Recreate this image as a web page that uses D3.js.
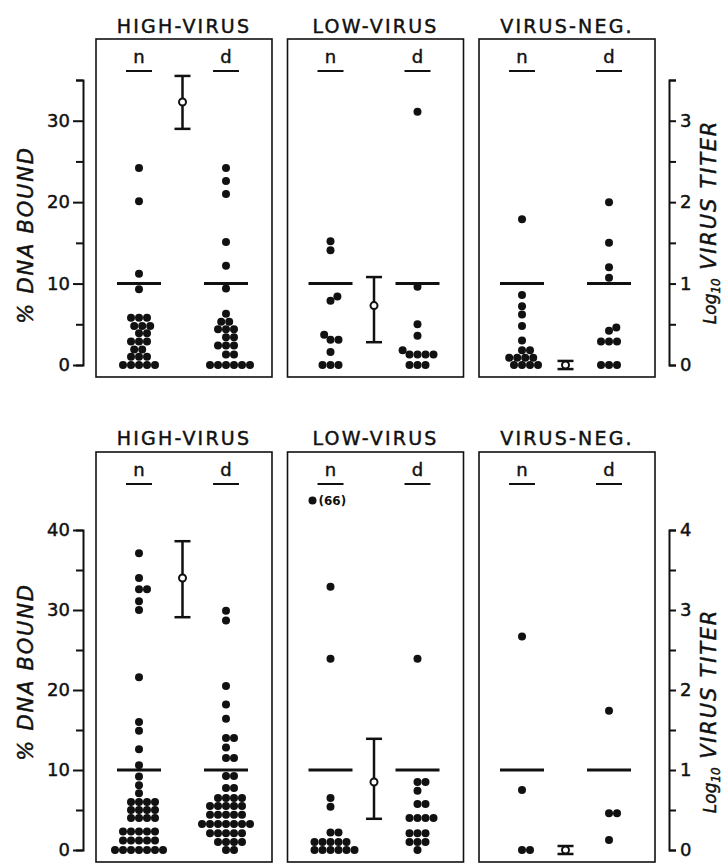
<!DOCTYPE html>
<html><head><meta charset="utf-8">
<script src="https://cdn.jsdelivr.net/npm/d3@7"></script>
<style>body{margin:0;background:#fff} svg{display:block}</style>
</head><body>
<svg id="chart" width="727" height="865"></svg>
<script>
// ---------- DATA ----------
const groups = ["HIGH-VIRUS", "LOW-VIRUS", "VIRUS-NEG."];
const columns = ["n", "err", "d"];
const medianValue = 10;

// Upper experiment: % DNA bound, per group, n and d columns
const topHighN = [24.2, 20.1, 11.2, 9.3, 5.8, 5.8, 5.8, 4.8, 4.8, 4.8, 3.9, 3.9, 2.9, 2.9, 2.9, 1.9, 1.9, 1.0, 1.0, 1.0, 0, 0, 0, 0, 0];
const topHighD = [24.2, 22.6, 21.0, 15.1, 12.2, 9.4, 6.3, 5.3, 5.3, 4.4, 4.4, 4.4, 3.4, 3.4, 2.4, 2.4, 2.4, 1.3, 1.3, 0, 0, 0, 0, 0, 0];
const topLowN = [15.2, 14.1, 8.4, 7.9, 3.7, 3.1, 3.1, 1.6, 0, 0, 0];
const topLowD = [31.1, 9.6, 5.0, 3.6, 1.8, 1.3, 1.3, 1.3, 1.3, 0, 0, 0];
const topNegN = [17.9, 8.6, 7.2, 6.2, 4.8, 3.0, 1.8, 1.8, 0.9, 0.9, 0.9, 0.9, 0, 0, 0, 0];
const topNegD = [20.0, 15.0, 12.0, 10.7, 4.6, 4.2, 2.9, 2.9, 2.9, 0, 0, 0];
// Upper experiment: log10 virus titer (mean, low, high) per group
const topTiterMean = [3.23, 0.73, 0.0];
const topTiterLow = [2.90, 0.28, -0.05];
const topTiterHigh = [3.55, 1.08, 0.05];

// Lower experiment
const bottomHighN = [37.1, 34.0, 32.6, 32.6, 31.1, 30.0, 21.6, 16.0, 14.9, 12.6, 10.6, 9.2, 8.1, 7.1,
  6, 6, 6, 6, 5, 5, 5, 5, 4, 4, 4, 4, 2.3, 2.3, 2.3, 2.3, 2.3, 1.2, 1.2, 1.2, 1.2, 1.2, 0, 0, 0, 0, 0, 0, 0];
const bottomHighD = [29.9, 28.7, 20.5, 18.2, 16.4, 14.0, 14.0, 12.8, 11.5, 11.5, 9.25, 9.25, 7.75, 7.75,
  6.5, 6.5, 6.5, 6.5, 5.5, 5.5, 5.5, 5.5, 5.5, 4.4, 4.4, 4.4, 4.4, 4.4,
  3.25, 3.25, 3.25, 3.25, 3.25, 3.25, 3.25, 2.1, 2.1, 2.1, 2.1, 2.1, 1.0, 1.0, 1.0, 1.0, 0, 0];
const bottomLowN = [32.9, 23.9, 6.5, 5.4, 2.2, 2.2, 1.0, 1.0, 1.0, 1.0, 1.0, 0, 0, 0, 0, 0, 0];
const bottomLowD = [23.9, 8.5, 8.5, 7.4, 5.75, 5.75, 4.0, 4.0, 4.0, 4.0, 2.1, 2.1, 2.1, 1.0, 1.0, 1.0, 0];
const bottomNegN = [26.7, 7.5, 0, 0];
const bottomNegD = [17.4, 4.6, 4.6, 1.25];
const bottomOutlierValue = [66];        // off-scale value, drawn at top of LOW-VIRUS n column
const bottomOutlierShownAt = 43.7;      // where on the % scale it is parked
const bottomTiterMean = [3.40, 0.85, 0.0];
const bottomTiterLow = [2.91, 0.39, -0.05];
const bottomTiterHigh = [3.86, 1.39, 0.05];

// Axis ticks
const topPctTicks = [0, 5, 10, 15, 20, 25, 30, 35];
const topTiterTicks = [0, 0.5, 1, 1.5, 2, 2.5, 3, 3.5];
const bottomPctTicks = [0, 5, 10, 15, 20, 25, 30, 35, 40];
const bottomTiterTicks = [0, 0.5, 1, 1.5, 2, 2.5, 3, 3.5, 4];

// ---------- DRAW ----------
const svg = d3.select("#chart");
const FONT = "'DejaVu Sans', sans-serif";
const INK = "#111";
const R = 4, D = 8;

const xPanel = d3.scaleBand().domain(groups).range([96, 655]).paddingInner(0.081);
const xCol = d3.scalePoint().domain(columns).range([43, 130]);

function lettering(sel, size) {
  return sel.attr("font-family", FONT).attr("font-size", size).attr("fill", INK)
    .attr("stroke", INK).attr("stroke-width", 0.45);
}

function swarm(values, y) {
  const pts = values.map(v => ({ v, y: y(v), x: 0 })).sort((a, b) => b.y - a.y);
  const placed = [];
  for (const p of pts) {
    const cands = [0];
    for (const q of placed) {
      const dy = Math.abs(q.y - p.y);
      if (dy < D) { const dx = Math.sqrt(D * D - dy * dy); cands.push(q.x + dx, q.x - dx); }
    }
    cands.sort((a, b) => (Math.abs(a) - Math.abs(b)) || (b - a));
    for (const c of cands) {
      if (placed.every(q => (q.x - c) ** 2 + (q.y - p.y) ** 2 >= D * D - 0.01)) { p.x = c; break; }
    }
    placed.push(p);
  }
  return placed;
}

function drawRow(cfg) {
  const g = svg.append("g");
  const y = d3.scaleLinear().domain([0, cfg.pctMax]).range(cfg.range);
  const yT = d3.scaleLinear().domain([0, cfg.titerMax]).range(cfg.range);

  groups.forEach((grp, i) => {
    const x0 = xPanel(grp);
    const pg = g.append("g").attr("transform", `translate(${x0},0)`);
    // box
    pg.append("rect").attr("x", 0).attr("y", cfg.boxTop)
      .attr("width", xPanel.bandwidth()).attr("height", cfg.boxBottom - cfg.boxTop)
      .attr("fill", "none").attr("stroke", INK).attr("stroke-width", 1.6);
    // title
    lettering(g.append("text"), 19).attr("x", x0 + xPanel.bandwidth() / 2).attr("y", cfg.titleY)
      .attr("text-anchor", "middle").attr("letter-spacing", 2.2).text(grp);
    // n / d labels with underline
    ["n", "d"].forEach(c => {
      lettering(pg.append("text"), 18).attr("x", xCol(c)).attr("y", cfg.labelY)
        .attr("text-anchor", "middle").text(c);
      pg.append("line").attr("x1", xCol(c) - 13).attr("x2", xCol(c) + 13)
        .attr("y1", cfg.labelY + 8).attr("y2", cfg.labelY + 8)
        .attr("stroke", INK).attr("stroke-width", 2);
      // median line
      pg.append("line").attr("x1", xCol(c) - 22).attr("x2", xCol(c) + 22)
        .attr("y1", y(medianValue)).attr("y2", y(medianValue))
        .attr("stroke", INK).attr("stroke-width", 3);
    });
    // dots
    const cols = cfg.data[i];
    ["n", "d"].forEach((c, k) => {
      const pts = swarm(cols[k], y);
      pg.selectAll(null).data(pts).join("circle")
        .attr("cx", p => xCol(c) + p.x).attr("cy", p => p.y).attr("r", R).attr("fill", INK);
    });
    // error bar
    const ex = xCol("err");
    const lo = yT(cfg.tLow[i]), hi = yT(cfg.tHigh[i]), m = yT(cfg.tMean[i]);
    pg.append("line").attr("x1", ex).attr("x2", ex).attr("y1", lo).attr("y2", hi)
      .attr("stroke", INK).attr("stroke-width", 2.5);
    [lo, hi].forEach(yy => pg.append("line").attr("x1", ex - 8).attr("x2", ex + 8)
      .attr("y1", yy).attr("y2", yy).attr("stroke", INK).attr("stroke-width", 2.5));
    pg.append("circle").attr("cx", ex).attr("cy", m).attr("r", 3.5)
      .attr("fill", "#fff").attr("stroke", INK).attr("stroke-width", 2);
  });

  // outlier
  if (cfg.outlier) {
    const x0 = xPanel(groups[1]) + xCol("n") - 18;
    const yy = y(cfg.outlierAt);
    g.append("circle").attr("cx", x0).attr("cy", yy).attr("r", R).attr("fill", INK);
    g.append("text").attr("x", x0 + 6).attr("y", yy + 4.5).attr("font-family", FONT)
      .attr("font-size", 12).attr("font-weight", "bold").attr("fill", INK).text(`(${cfg.outlier[0]})`);
  }

  // left axis
  const axL = d3.axisLeft(y).tickValues(cfg.pctTicks).tickFormat(d => d % 10 === 0 ? d : "")
    .tickSizeOuter(0).tickSize(7);
  const gl = g.append("g").attr("transform", "translate(83,0)").call(axL);
  gl.select(".domain").attr("stroke", INK).attr("stroke-width", 2);
  gl.selectAll(".tick line").attr("stroke", INK).attr("stroke-width", 2)
    .attr("x2", d => d % 10 === 0 ? -10 : -7);
  lettering(gl.selectAll(".tick text"), 18).attr("x", -13);

  // right axis
  const axR = d3.axisRight(yT).tickValues(cfg.titerTicks).tickFormat(d => Number.isInteger(d) ? d : "")
    .tickSizeOuter(0).tickSize(7);
  const gr = g.append("g").attr("transform", "translate(669,0)").call(axR);
  gr.select(".domain").attr("stroke", INK).attr("stroke-width", 2);
  gr.selectAll(".tick line").attr("stroke", INK).attr("stroke-width", 2);
  lettering(gr.selectAll(".tick text"), 18).attr("x", 11);

  // axis titles
  lettering(g.append("text"), 21).attr("transform", `translate(33,${cfg.leftTitleY}) rotate(-90)`)
    .attr("text-anchor", "middle").attr("font-style", "italic").attr("letter-spacing", 1.8)
    .text("% DNA BOUND");
  const rt = lettering(g.append("text"), 21).attr("transform", `translate(716,${cfg.rightTitleY}) rotate(-90)`)
    .attr("text-anchor", "middle").attr("font-style", "italic");
  rt.append("tspan").attr("font-size", 17).text("Log");
  rt.append("tspan").attr("font-size", 12).attr("dy", 4).text("10");
  rt.append("tspan").attr("font-size", 21).attr("dy", -4).attr("letter-spacing", 1.8).text(" VIRUS TITER");
}

drawRow({
  pctMax: 35, titerMax: 3.5, range: [365, 80], boxTop: 39, boxBottom: 377,
  titleY: 33, labelY: 63, leftTitleY: 235, rightTitleY: 222,
  data: [[topHighN, topHighD], [topLowN, topLowD], [topNegN, topNegD]],
  tMean: topTiterMean, tLow: topTiterLow, tHigh: topTiterHigh,
  pctTicks: topPctTicks, titerTicks: topTiterTicks
});
drawRow({
  pctMax: 40, titerMax: 4, range: [850, 530], boxTop: 452, boxBottom: 862,
  titleY: 445, labelY: 476, leftTitleY: 672, rightTitleY: 711,
  data: [[bottomHighN, bottomHighD], [bottomLowN, bottomLowD], [bottomNegN, bottomNegD]],
  tMean: bottomTiterMean, tLow: bottomTiterLow, tHigh: bottomTiterHigh,
  pctTicks: bottomPctTicks, titerTicks: bottomTiterTicks,
  outlier: bottomOutlierValue, outlierAt: bottomOutlierShownAt
});
</script>
</body></html>
